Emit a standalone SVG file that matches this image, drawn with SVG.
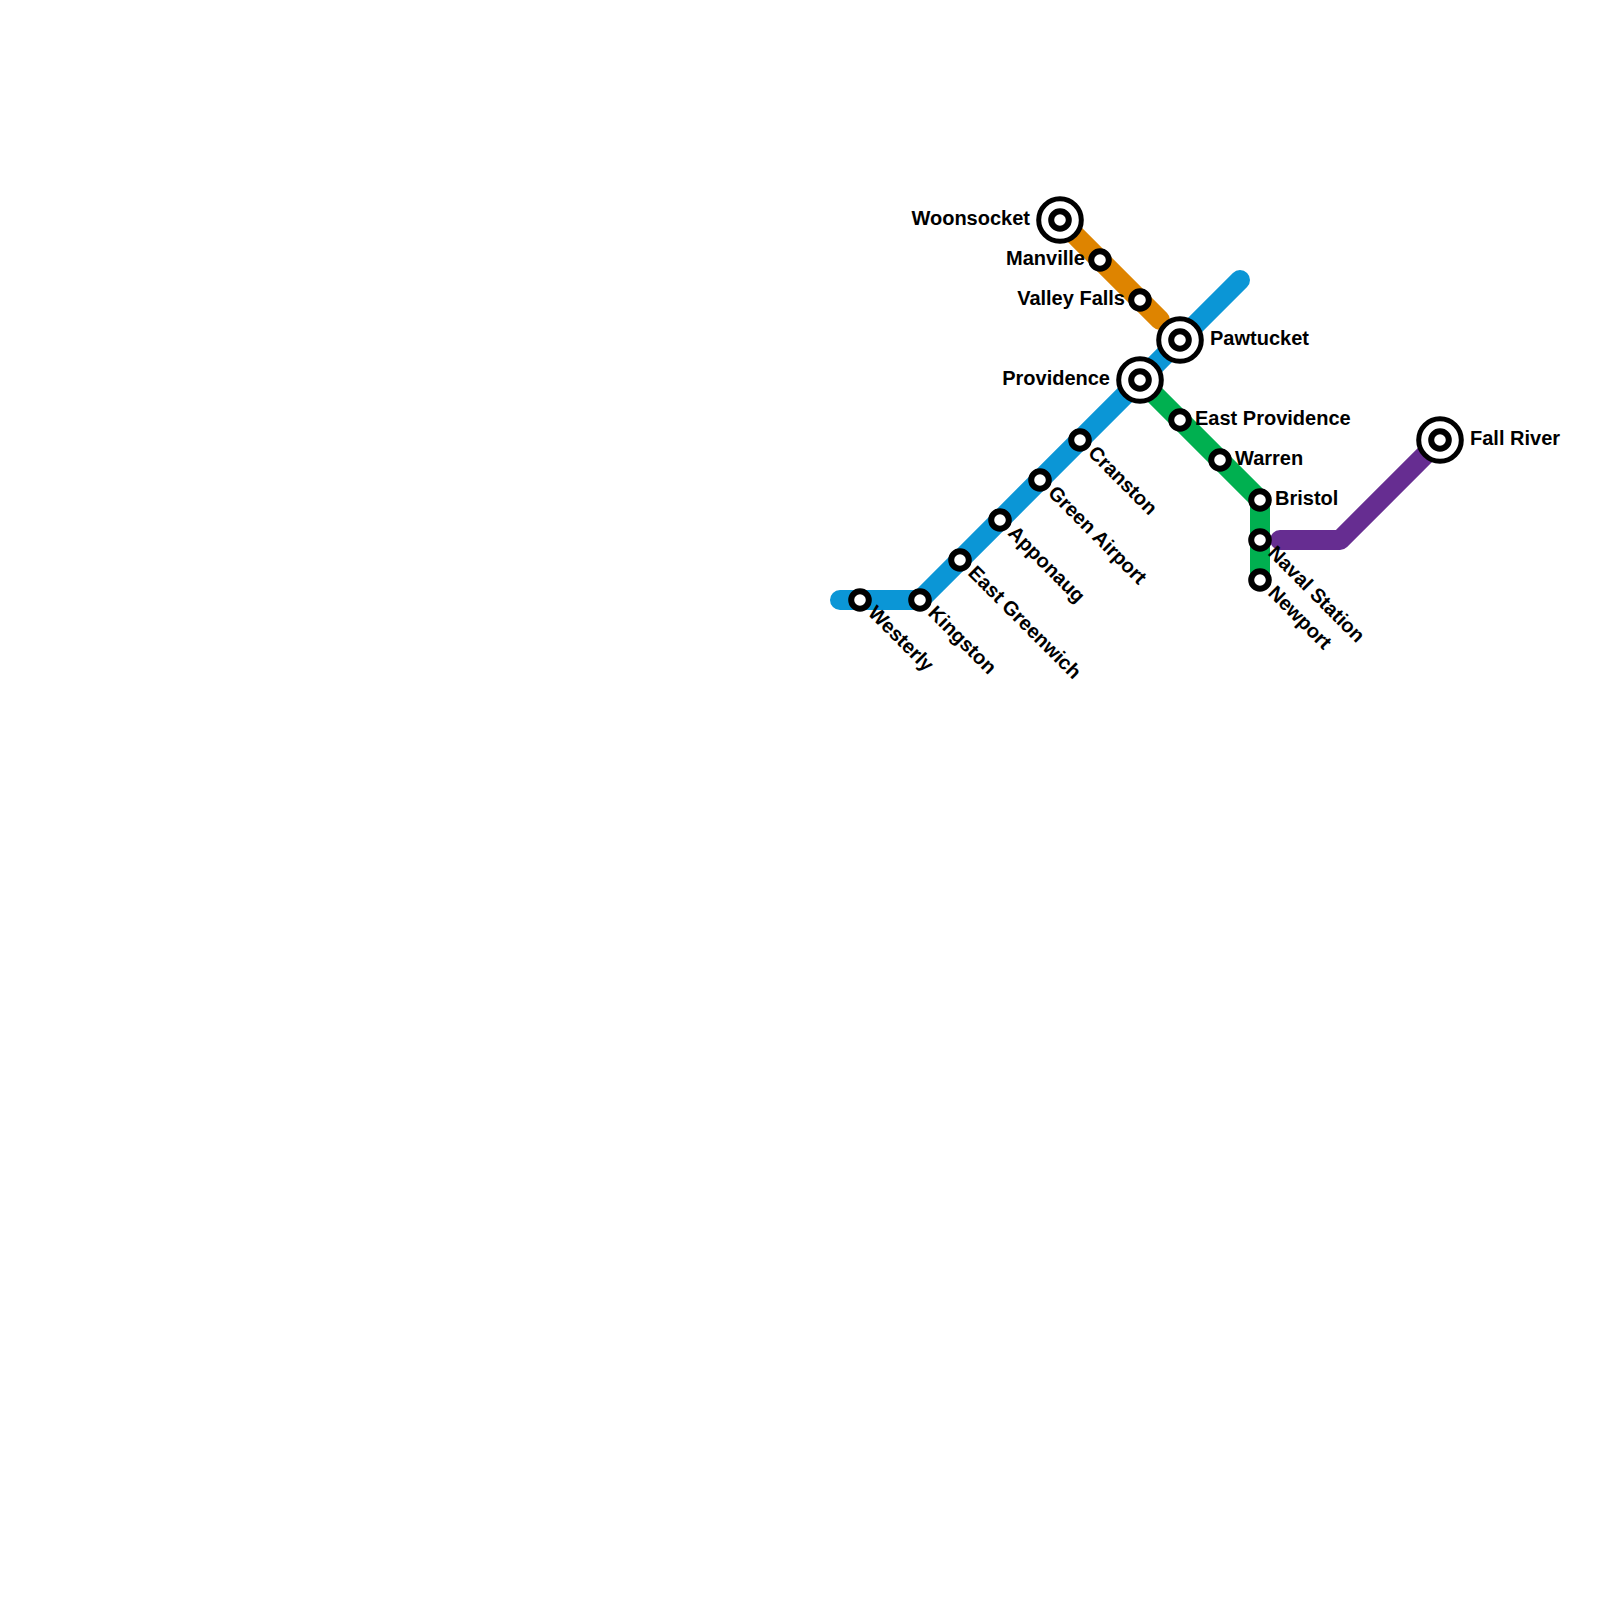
<svg xmlns="http://www.w3.org/2000/svg" width="1600" height="1600" viewBox="0 0 1600 1600">
<style>
.l{fill:none;stroke-width:20;stroke-linecap:round;stroke-linejoin:round}
.s{fill:#fff;stroke:#000;stroke-width:6}
.b{fill:#fff;stroke:#000;stroke-width:5}
.t{font:bold 20px "Liberation Sans",Arial,sans-serif;fill:#000}
.e{text-anchor:end}
</style>
<rect width="1600" height="1600" fill="#fff"/>
<g id="connectors">
<path class="l" stroke="#0b96d6" d="M840 600H920L1240 280"/>
<path class="l" stroke="#de8400" d="M1060 220L1160 320"/>
<path class="l" stroke="#00b050" d="M1140 380L1260 500V580"/>
<path class="l" stroke="#662d91" d="M1280 540H1340L1440 440"/>
</g>
<g id="woonsocket"><circle class="b" cx="1060" cy="220" r="21.3"/><circle class="s" cx="1060" cy="220" r="8.8"/><text class="t e" x="1030" y="225">Woonsocket</text></g>
<g id="manville"><circle class="s" cx="1100" cy="260" r="8.8"/><text class="t e" x="1085" y="265">Manville</text></g>
<g id="valley-falls"><circle class="s" cx="1140" cy="300" r="8.8"/><text class="t e" x="1125" y="305">Valley Falls</text></g>
<g id="pawtucket"><circle class="b" cx="1180" cy="340" r="21.3"/><circle class="s" cx="1180" cy="340" r="8.8"/><text class="t" x="1210" y="345">Pawtucket</text></g>
<g id="providence"><circle class="b" cx="1140" cy="380" r="21.3"/><circle class="s" cx="1140" cy="380" r="8.8"/><text class="t e" x="1110" y="385">Providence</text></g>
<g id="east-providence"><circle class="s" cx="1180" cy="420" r="8.8"/><text class="t" x="1195" y="425">East Providence</text></g>
<g id="warren"><circle class="s" cx="1220" cy="460" r="8.8"/><text class="t" x="1235" y="465">Warren</text></g>
<g id="bristol"><circle class="s" cx="1260" cy="500" r="8.8"/><text class="t" x="1275" y="505">Bristol</text></g>
<g id="naval-station"><circle class="s" cx="1260" cy="540" r="8.8"/><text class="t" transform="translate(1267 554) rotate(45)">Naval Station</text></g>
<g id="newport"><circle class="s" cx="1260" cy="580" r="8.8"/><text class="t" transform="translate(1267 594) rotate(45)">Newport</text></g>
<g id="fall-river"><circle class="b" cx="1440" cy="440" r="21.3"/><circle class="s" cx="1440" cy="440" r="8.8"/><text class="t" x="1470" y="445">Fall River</text></g>
<g id="cranston"><circle class="s" cx="1080" cy="440" r="8.8"/><text class="t" transform="translate(1087 454) rotate(45)">Cranston</text></g>
<g id="green-airport"><circle class="s" cx="1040" cy="480" r="8.8"/><text class="t" transform="translate(1047 494) rotate(45)">Green Airport</text></g>
<g id="apponaug"><circle class="s" cx="1000" cy="520" r="8.8"/><text class="t" transform="translate(1007 534) rotate(45)">Apponaug</text></g>
<g id="east-greenwich"><circle class="s" cx="960" cy="560" r="8.8"/><text class="t" transform="translate(967 574) rotate(45)">East Greenwich</text></g>
<g id="kingston"><circle class="s" cx="920" cy="600" r="8.8"/><text class="t" transform="translate(927 614) rotate(45)">Kingston</text></g>
<g id="westerly"><circle class="s" cx="860" cy="600" r="8.8"/><text class="t" transform="translate(867 614) rotate(45)">Westerly</text></g>
</svg>
